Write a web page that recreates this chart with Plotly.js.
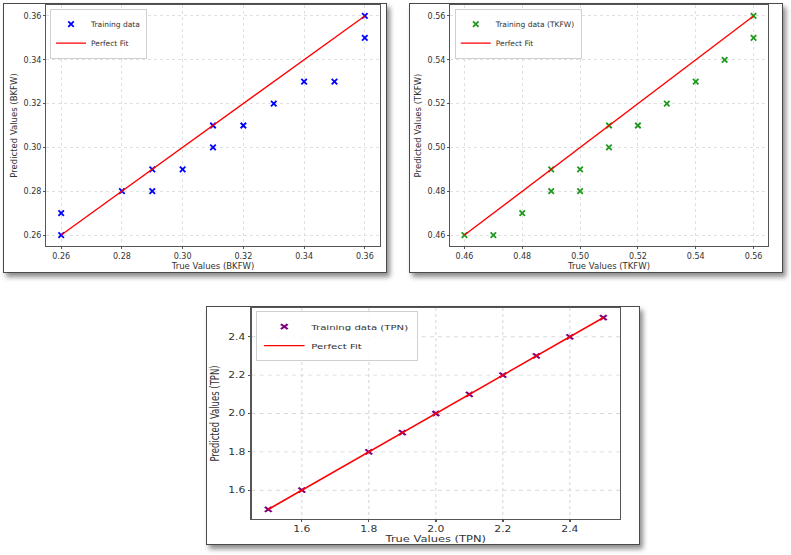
<!DOCTYPE html>
<html>
<head>
<meta charset="utf-8">
<script src="https://cdn.plot.ly/plotly-3.0.1.min.js"></script>
<style>
  html, body { margin: 0; padding: 0; background: #fff; }
  body { width: 791px; height: 555px; position: relative; overflow: hidden; }
  .panel { position: absolute; box-sizing: border-box; border: 1px solid #4a4a4a; background: #fff;
           box-shadow: 3px 4px 5px rgba(0,0,0,0.45); overflow: hidden; }
  .plot { position: absolute; left: 0; top: 0; }
</style>
</head>
<body>
<div class="panel" style="left:3px; top:3px; width:384px; height:270px;"><div id="plotBKFW" class="plot"></div></div>
<div class="panel" style="left:409px; top:3px; width:374px; height:270px;"><div id="plotTKFW" class="plot"></div></div>
<div class="panel" style="left:206px; top:306px; width:434px; height:239px;"><div id="plotTPN" class="plot" style="transform: scaleX(1.35); transform-origin: 0 0;"></div></div>
<script>
// values
const bkfwTrue = [0.26, 0.26, 0.28, 0.29, 0.29, 0.30, 0.31, 0.31, 0.32, 0.33, 0.34, 0.35, 0.36, 0.36];
const bkfwPred = [0.27, 0.26, 0.28, 0.29, 0.28, 0.29, 0.31, 0.30, 0.31, 0.32, 0.33, 0.33, 0.36, 0.35];

const tkfwTrue = [0.46, 0.47, 0.48, 0.49, 0.49, 0.50, 0.50, 0.51, 0.51, 0.52, 0.53, 0.54, 0.55, 0.56, 0.56];
const tkfwPred = [0.46, 0.46, 0.47, 0.49, 0.48, 0.49, 0.48, 0.51, 0.50, 0.51, 0.52, 0.53, 0.54, 0.56, 0.55];

const tpnTrue = [1.5, 1.6, 1.8, 1.9, 2.0, 2.1, 2.2, 2.3, 2.4, 2.5];
const tpnPred = [1.5, 1.6, 1.8, 1.9, 2.0, 2.1, 2.2, 2.3, 2.4, 2.5];

const FONT = "DejaVu Sans, Verdana, sans-serif";

function axis(title, range, dtick, fmt, isX) {
  return {
    title: { text: title, font: { size: 8.5, color: "#333" }, standoff: isX ? 2 : 4 },
    range: range, dtick: dtick, tick0: 0, tickformat: fmt,
    showline: true, linecolor: "#555", linewidth: 1, mirror: true,
    ticks: "outside", ticklen: 2, tickcolor: "#555", tickwidth: 1,
    tickfont: { size: 8, color: "#333" },
    showgrid: true, gridcolor: "#d8d8d8", griddash: "dot", gridwidth: 0.8,
    zeroline: false, automargin: isX
  };
}

function drawFit(id, xs, ys, opts) {
  const lo = Math.min(...xs), hi = Math.max(...xs);
  Plotly.newPlot(id, [{
    type: "scatter", mode: "markers", name: opts.label,
    x: xs, y: ys,
    marker: { symbol: "x-thin", size: opts.msize || 5.5, line: { width: 1.8, color: opts.color } }
  }, {
    type: "scatter", mode: "lines", name: "Perfect Fit",
    x: [lo, hi], y: [lo, hi],
    line: { color: "#ff0000", width: 1.4 }
  }], {
    width: opts.w, height: opts.h,
    paper_bgcolor: "rgba(0,0,0,0)", plot_bgcolor: "#fff",
    margin: opts.margin,
    font: { family: FONT, size: 8, color: "#333" },
    xaxis: axis(opts.xtitle, opts.range, opts.dtick, opts.fmt, true),
    yaxis: axis(opts.ytitle, opts.range, opts.dtick, opts.fmt, false),
    showlegend: true,
    legend: { x: opts.lx, y: 0.985, xanchor: "left", yanchor: "top", font: { size: 7.5, color: "#333" },
              bgcolor: "rgba(255,255,255,0.85)", bordercolor: "#d0d0d0", borderwidth: 1,
              itemwidth: 30, tracegroupgap: 0 }
  }, { displayModeBar: false, staticPlot: true });
}

drawFit("plotBKFW", bkfwTrue, bkfwPred, {
  label: "Training data", color: "#0000ff",
  w: 382, h: 268, margin: { l: 42, r: 6, t: 1, b: 26 },
  range: [0.255, 0.365], dtick: 0.02, fmt: ".2f", lx: 0.012,
  xtitle: "True Values (BKFW)", ytitle: "Predicted Values (BKFW)"
});

drawFit("plotTKFW", tkfwTrue, tkfwPred, {
  label: "Training data (TKFW)", color: "#1f9a1f",
  w: 372, h: 268, margin: { l: 40, r: 14, t: 1, b: 26 },
  range: [0.455, 0.565], dtick: 0.02, fmt: ".2f", lx: 0.015,
  xtitle: "True Values (TKFW)", ytitle: "Predicted Values (TKFW)"
});

drawFit("plotTPN", tpnTrue, tpnPred, {
  label: "Training data (TPN)", color: "#800080", msize: 5,
  w: 319, h: 237, margin: { l: 33, r: 13, t: 1, b: 25 },
  range: [1.45, 2.55], dtick: 0.2, fmt: ".1f", lx: 0.012,
  xtitle: "True Values (TPN)", ytitle: "Predicted Values (TPN)"
});
</script>
</body>
</html>
